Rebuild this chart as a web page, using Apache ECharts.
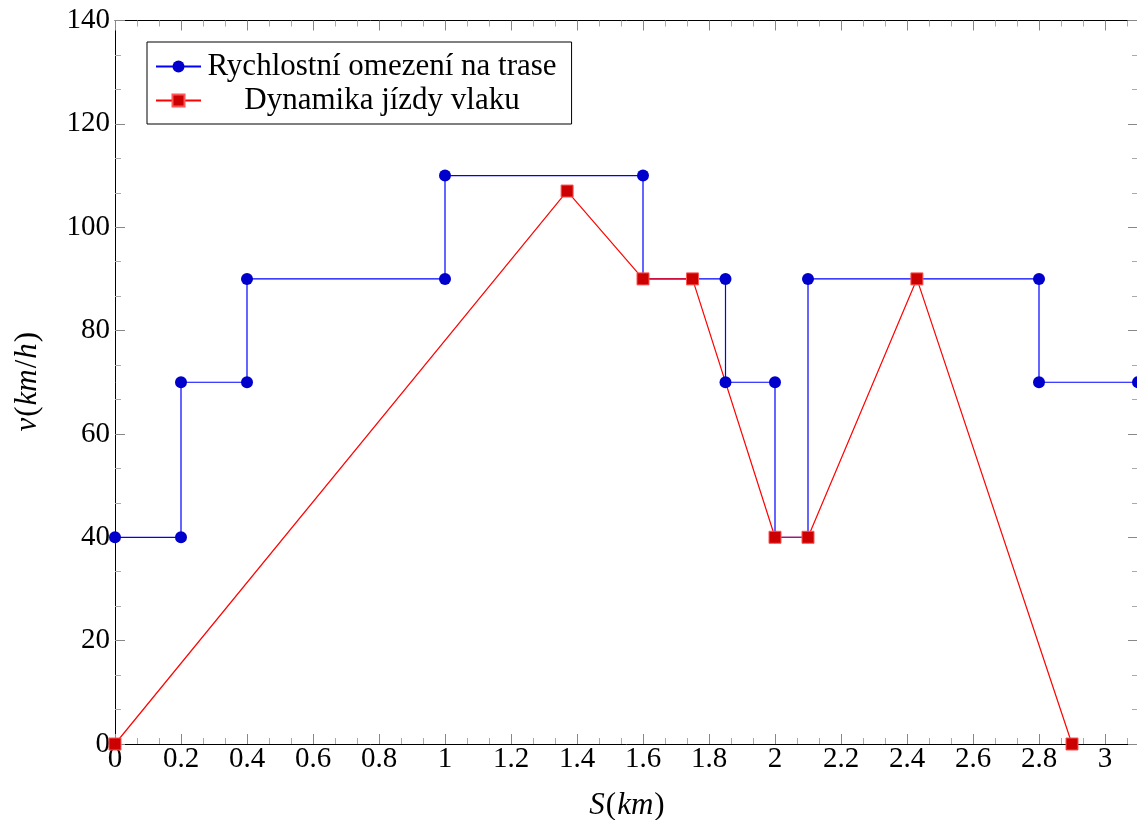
<!DOCTYPE html>
<html><head><meta charset="utf-8">
<script src="https://cdn.jsdelivr.net/npm/echarts@6/dist/echarts.min.js"></script>
<style>html,body{margin:0;padding:0;background:#fff}#c{width:1137px;height:820px}</style>
</head><body><div id="c"></div>
<script>
var limitName = 'Rychlostní omezení na trase';
var rideName = 'Dynamika jízdy vlaku';
var limitS = [0, 0.2, 0.2, 0.4, 0.4, 1, 1, 1.6, 1.6, 1.85, 1.85, 2, 2, 2.1, 2.1, 2.8, 2.8, 3.1];
var limitV = [40, 40, 70, 70, 90, 90, 110, 110, 90, 90, 70, 70, 40, 40, 90, 90, 70, 70];
var rideS = [0, 1.37, 1.6, 1.75, 2, 2.1, 2.43, 2.9];
var rideV = [0, 107, 90, 90, 40, 40, 90, 0];
var xLabels = ['0','0.2','0.4','0.6','0.8','1','1.2','1.4','1.6','1.8','2','2.2','2.4','2.6','2.8','3'];
var yLabels = ['0','20','40','60','80','100','120','140'];

function zip(a, b) { return a.map(function (v, i) { return [v, b[i]]; }); }
var FONT = 'Liberation Serif';
var FS = 29;
var LFS = 31;
var ctx = document.createElement('canvas').getContext('2d');
ctx.font = LFS + 'px "' + FONT + '"';
var legendTextW = Math.ceil(ctx.measureText(limitName).width) + 2;

var chart = echarts.init(document.getElementById('c'));
var minorCommon = { show: true, splitNumber: 3, length: 6, lineStyle: { color: '#aaaaaa', width: 1 } };
var tickCommon = { show: true, inside: true, length: 10, lineStyle: { color: '#888888', width: 1 } };
function xFmt(v) {
  var s = String(Math.round(v * 10) / 10);
  return xLabels.indexOf(s) >= 0 ? s : '';
}
function yFmt(v) {
  var s = String(Math.round(v));
  return yLabels.indexOf(s) >= 0 ? s : '';
}
var nameRich = {
  i: { fontFamily: FONT, fontSize: 31, fontStyle: 'italic', color: '#000', padding: [0, 1, 0, 1] },
  n: { fontFamily: FONT, fontSize: 31, color: '#000' }
};
chart.setOption({
  animation: false,
  grid: { left: 115, width: 1023, top: 20.5, bottom: 76, containLabel: false, outerBoundsMode: 'none' },
  xAxis: [{
    type: 'value', min: 0, max: 3.1, interval: 0.2,
    name: '{i|S}{n|(}{i|km}{n|)}', nameLocation: 'middle', nameGap: 46,
    nameTextStyle: { rich: nameRich },
    axisLine: { show: true, onZero: false, lineStyle: { color: '#000', width: 1 } },
    axisTick: tickCommon, minorTick: minorCommon,
    splitLine: { show: false },
    axisLabel: { formatter: xFmt, fontFamily: FONT, fontSize: FS, color: '#000', margin: 1 }
  }, {
    type: 'value', min: 0, max: 3.1, interval: 0.2, position: 'top',
    axisLine: { show: true, onZero: false, lineStyle: { color: '#000', width: 1 } },
    axisTick: tickCommon, minorTick: minorCommon,
    splitLine: { show: false }, axisLabel: { show: false }
  }],
  yAxis: [{
    type: 'value', min: 0, max: 140, interval: 20,
    name: '{i|v}{n|(}{i|km}{n|/}{i|h}{n|)}', nameLocation: 'middle', nameGap: 72, nameRotate: 90,
    nameTextStyle: { rich: nameRich },
    axisLine: { show: true, onZero: false, lineStyle: { color: '#000', width: 1 } },
    axisTick: tickCommon, minorTick: minorCommon,
    splitLine: { show: false },
    axisLabel: { formatter: yFmt, fontFamily: FONT, fontSize: FS, color: '#000', margin: 5 }
  }, {
    type: 'value', min: 0, max: 140, interval: 20, position: 'right',
    axisLine: { show: true, onZero: false, lineStyle: { color: '#000', width: 1 } },
    axisTick: tickCommon, minorTick: minorCommon,
    splitLine: { show: false }, axisLabel: { show: false }
  }],
  legend: {
    left: 147, top: 42, orient: 'vertical',
    padding: [9, 15, 8, 8],
    backgroundColor: '#fff', borderColor: '#000', borderWidth: 1,
    itemWidth: 45, itemHeight: 15, itemGap: 3, itemTextGap: 7,
    formatter: function (n) { return '{a|' + n + '}'; },
    textStyle: { fontFamily: FONT, fontSize: LFS, color: '#000',
      rich: { a: { fontFamily: FONT, fontSize: LFS, color: '#000', width: legendTextW, align: 'center' } } },
    data: [limitName, rideName]
  },
  series: [{
    name: limitName, type: 'line', data: zip(limitS, limitV),
    xAxisIndex: 0, yAxisIndex: 0,
    symbol: 'circle', symbolSize: 12, clip: false,
    lineStyle: { color: '#0000ff', width: 1.2 },
    itemStyle: { color: '#0000cc', borderColor: '#0000cc', borderWidth: 0 }
  }, {
    name: rideName, type: 'line', data: zip(rideS, rideV),
    xAxisIndex: 0, yAxisIndex: 0,
    symbol: 'rect', symbolSize: 12, clip: false,
    lineStyle: { color: '#ff0000', width: 1.2 },
    itemStyle: { color: '#cc0000', borderColor: '#ff5555', borderWidth: 1 }
  }]
});
</script></body></html>
